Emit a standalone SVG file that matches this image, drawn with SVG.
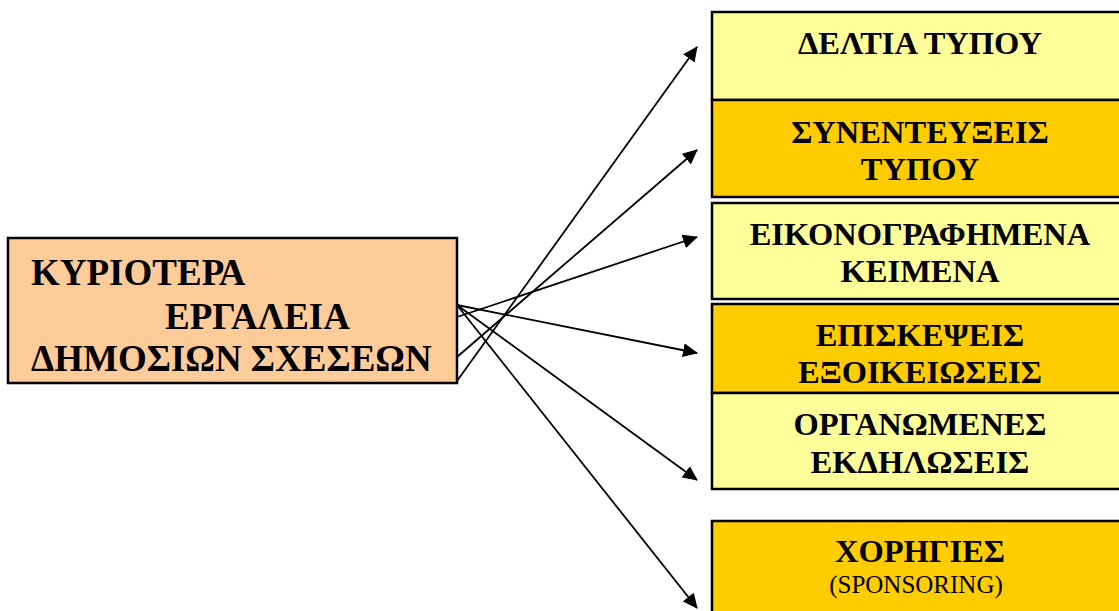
<svg xmlns="http://www.w3.org/2000/svg" width="1119" height="611" viewBox="0 0 1119 611">
<style>
.box{stroke:#000;stroke-width:2.5}
.ly{fill:#FFFF99}
.gd{fill:#FFCC00}
.pc{fill:#FFCC99}
.t{font-family:"Liberation Serif","Times New Roman",serif;font-weight:bold;font-size:32.5px;fill:#000;text-anchor:middle}
.tl{font-family:"Liberation Serif","Times New Roman",serif;font-weight:bold;font-size:37px;fill:#000}
.ts{font-family:"Liberation Serif","Times New Roman",serif;font-size:25px;fill:#000;text-anchor:middle}
.c{stroke:#000;stroke-width:1.8;fill:none;marker-end:url(#ah)}
</style>
<defs>
<marker id="ah" viewBox="0 0 15 14" refX="14" refY="7" markerWidth="15" markerHeight="14" markerUnits="userSpaceOnUse" orient="auto">
<path d="M0,0 L15,7 L0,14 z" fill="#000"/>
</marker>
</defs>
<rect width="1119" height="611" fill="#fff"/>
<g id="n0">
<rect class="box pc" x="8" y="238" width="449" height="145"/>
<text class="tl" x="31" y="285">ΚΥΡΙΟΤΕΡΑ</text>
<text class="tl" x="165" y="329">ΕΡΓΑΛΕΙΑ</text>
<text class="tl" x="31" y="371">ΔΗΜΟΣΙΩΝ ΣΧΕΣΕΩΝ</text>
</g>
<g id="n1">
<rect class="box ly" x="712" y="12" width="416" height="88"/>
<text class="t" x="920" y="54">ΔΕΛΤΙΑ ΤΥΠΟΥ</text>
</g>
<g id="n2">
<rect class="box gd" x="712" y="100" width="416" height="97"/>
<text class="t" x="920" y="143">ΣΥΝΕΝΤΕΥΞΕΙΣ</text>
<text class="t" x="920" y="180">ΤΥΠΟΥ</text>
</g>
<g id="n3">
<rect class="box ly" x="712" y="203" width="416" height="96"/>
<text class="t" x="920" y="245">ΕΙΚΟΝΟΓΡΑΦΗΜΕΝΑ</text>
<text class="t" x="920" y="282">ΚΕΙΜΕΝΑ</text>
</g>
<g id="n4">
<rect class="box gd" x="712" y="304" width="416" height="89"/>
<text class="t" x="920" y="346">ΕΠΙΣΚΕΨΕΙΣ</text>
<text class="t" x="920" y="383">ΕΞΟΙΚΕΙΩΣΕΙΣ</text>
</g>
<g id="n5">
<rect class="box ly" x="712" y="393" width="416" height="96"/>
<text class="t" x="920" y="435">ΟΡΓΑΝΩΜΕΝΕΣ</text>
<text class="t" x="920" y="473">ΕΚΔΗΛΩΣΕΙΣ</text>
</g>
<g id="n6">
<rect class="box gd" x="712" y="521" width="416" height="110"/>
<text class="t" x="920" y="562">ΧΟΡΗΓΙΕΣ</text>
<text class="ts" x="916" y="593">(SPONSORING)</text>
</g>
<g id="connectors">
<line class="c" x1="457" y1="381" x2="697" y2="47"/>
<line class="c" x1="457" y1="357" x2="697" y2="150"/>
<line class="c" x1="457" y1="317" x2="697" y2="237"/>
<line class="c" x1="457" y1="305" x2="697" y2="353"/>
<line class="c" x1="457" y1="305" x2="697" y2="480"/>
<line class="c" x1="457" y1="305" x2="697" y2="608"/>
</g>
</svg>
